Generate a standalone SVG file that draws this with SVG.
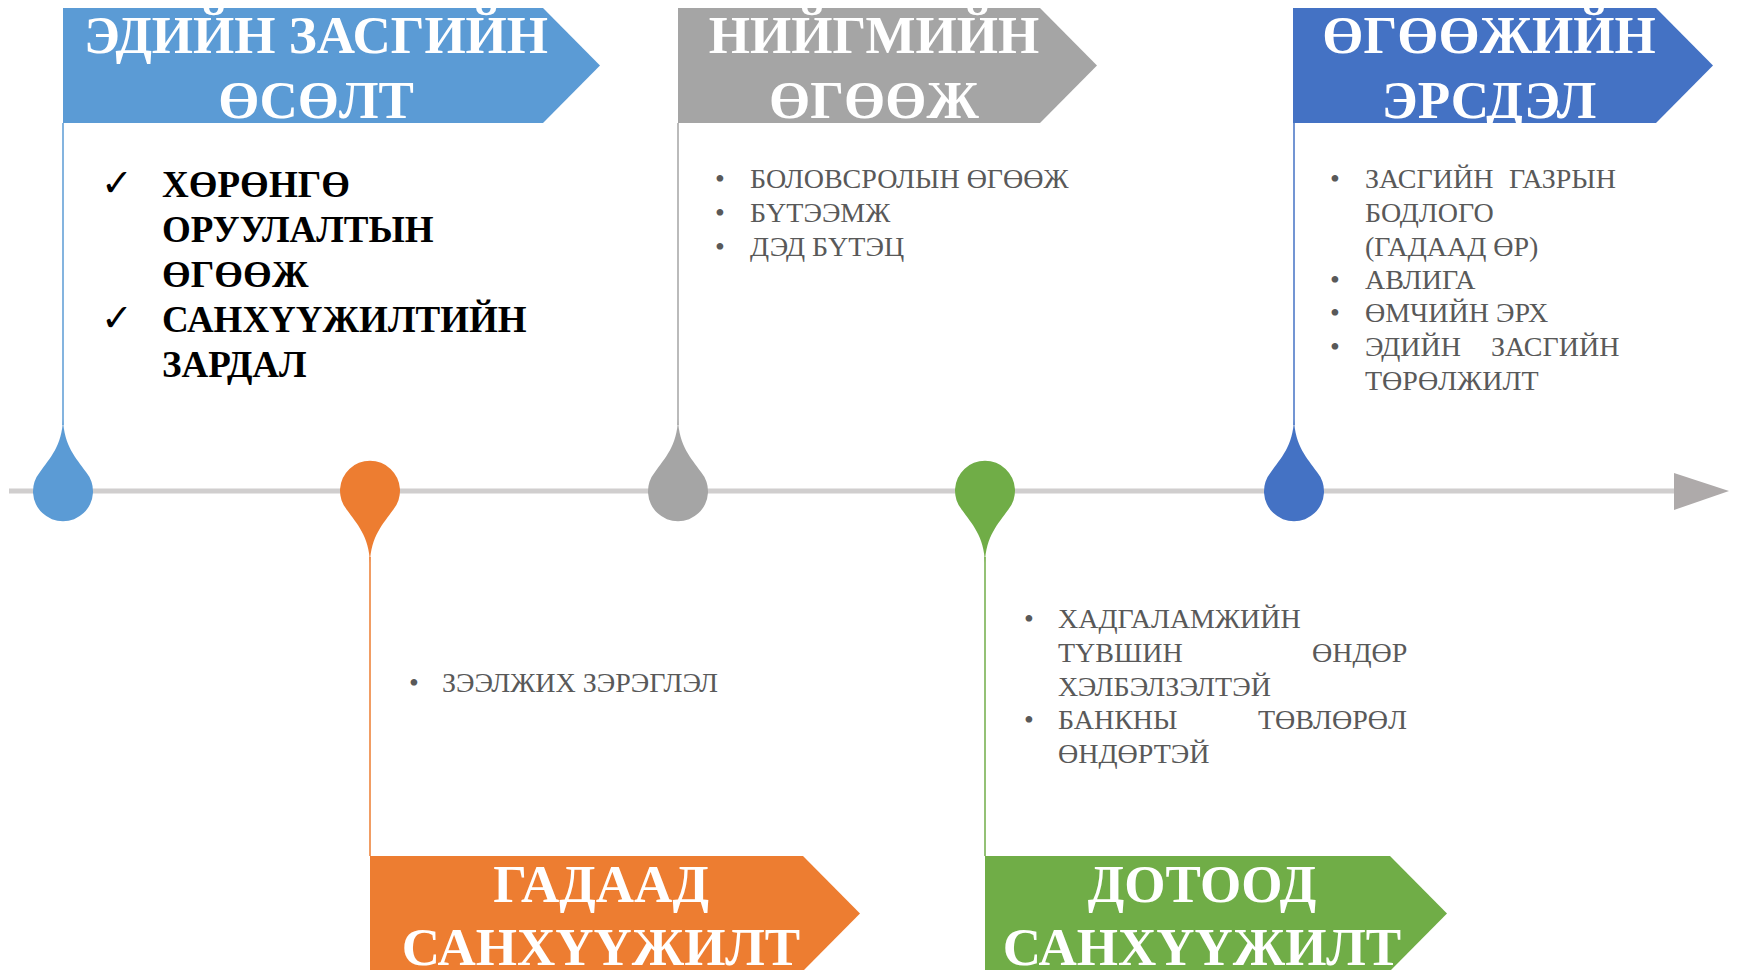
<svg xmlns="http://www.w3.org/2000/svg" width="1738" height="970" viewBox="0 0 1738 970">
<style>
.title{font-family:"Liberation Serif","Times New Roman",serif;font-weight:bold;font-size:53px;fill:#fff;text-anchor:middle}
.body{font-family:"Liberation Serif","Times New Roman",serif;font-size:28px;fill:#595959}
.bold{font-family:"Liberation Serif","Times New Roman",serif;font-weight:bold;font-size:37px;fill:#000}
.chk{font-family:"DejaVu Sans",sans-serif;font-size:38px;fill:#000}
.stem{stroke-width:1.5;fill:none}
</style>
<rect width="1738" height="970" fill="#fff"/>
<g id="connectors">
  <line x1="9" y1="491" x2="1676" y2="491" stroke="#D0CECE" stroke-width="5"/>
  <polygon points="1674,473 1729,491 1674,510" fill="#AEAAAA"/>
  <line class="stem" x1="63" y1="123" x2="63" y2="425" stroke="#5B9BD5"/>
  <line class="stem" x1="370" y1="557" x2="370" y2="856" stroke="#ED7D31"/>
  <line class="stem" x1="678" y1="123" x2="678" y2="425" stroke="#A5A5A5"/>
  <line class="stem" x1="985" y1="557" x2="985" y2="856" stroke="#70AD47"/>
  <line class="stem" x1="1294" y1="123" x2="1294" y2="425" stroke="#4472C4"/>
</g>
<g id="node-growth">
  <polygon points="63,8 543,8 600,65.5 543,123 63,123" fill="#5B9BD5"/>
  <text class="title" x="316" y="53">ЭДИЙН ЗАСГИЙН</text>
  <text class="title" x="316" y="118">ӨСӨЛТ</text>
  <path d="M63,419 C64,446 76,458 86,472 A30,30 0 1 1 40,472 C50,458 62,446 63,419 Z" fill="#5B9BD5"/>
  <text class="chk" x="101" y="196">✓</text>
  <text class="chk" x="101" y="331">✓</text>
  <text class="bold" x="162" y="197">ХӨРӨНГӨ</text>
  <text class="bold" x="162" y="242">ОРУУЛАЛТЫН</text>
  <text class="bold" x="162" y="287">ӨГӨӨЖ</text>
  <text class="bold" x="162" y="332">САНХҮҮЖИЛТИЙН</text>
  <text class="bold" x="162" y="377">ЗАРДАЛ</text>
</g>
<g id="node-external">
  <polygon points="370,856 803,856 860,913.5 803,971 370,971" fill="#ED7D31"/>
  <text class="title" x="601" y="902">ГАДААД</text>
  <text class="title" x="601" y="965">САНХҮҮЖИЛТ</text>
  <path d="M370,563 C371,536 383,524 393,510 A30,30 0 1 0 347,510 C357,524 369,536 370,563 Z" fill="#ED7D31"/>
  <text class="body" x="409" y="692">•</text>
  <text class="body" x="442" y="692">ЗЭЭЛЖИХ ЗЭРЭГЛЭЛ</text>
</g>
<g id="node-social">
  <polygon points="678,8 1040,8 1097,65.5 1040,123 678,123" fill="#A5A5A5"/>
  <text class="title" x="874" y="53">НИЙГМИЙН</text>
  <text class="title" x="874" y="118">ӨГӨӨЖ</text>
  <path d="M678,419 C679,446 691,458 701,472 A30,30 0 1 1 655,472 C665,458 677,446 678,419 Z" fill="#A5A5A5"/>
  <text class="body" x="715" y="188">•</text>
  <text class="body" x="715" y="222">•</text>
  <text class="body" x="715" y="256">•</text>
  <text class="body" x="750" y="188">БОЛОВСРОЛЫН ӨГӨӨЖ</text>
  <text class="body" x="750" y="222">БҮТЭЭМЖ</text>
  <text class="body" x="750" y="256">ДЭД БҮТЭЦ</text>
</g>
<g id="node-domestic">
  <polygon points="985,856 1390,856 1447,913.5 1390,971 985,971" fill="#70AD47"/>
  <text class="title" x="1202" y="902">ДОТООД</text>
  <text class="title" x="1202" y="965">САНХҮҮЖИЛТ</text>
  <path d="M985,563 C986,536 998,524 1008,510 A30,30 0 1 0 962,510 C972,524 984,536 985,563 Z" fill="#70AD47"/>
  <text class="body" x="1024" y="628">•</text>
  <text class="body" x="1024" y="729">•</text>
  <text class="body" x="1058" y="628">ХАДГАЛАМЖИЙН</text>
  <text class="body" y="662"><tspan x="1058">ТҮВШИН</tspan><tspan x="1312">ӨНДӨР</tspan></text>
  <text class="body" x="1058" y="696">ХЭЛБЭЛЗЭЛТЭЙ</text>
  <text class="body" y="729"><tspan x="1058">БАНКНЫ</tspan><tspan x="1258">ТӨВЛӨРӨЛ</tspan></text>
  <text class="body" x="1058" y="763">ӨНДӨРТЭЙ</text>
</g>
<g id="node-risk">
  <polygon points="1293,8 1656,8 1713,65.5 1656,123 1293,123" fill="#4472C4"/>
  <text class="title" x="1489" y="53">ӨГӨӨЖИЙН</text>
  <text class="title" x="1489" y="118">ЭРСДЭЛ</text>
  <path d="M1294,419 C1295,446 1307,458 1317,472 A30,30 0 1 1 1271,472 C1281,458 1293,446 1294,419 Z" fill="#4472C4"/>
  <text class="body" x="1330" y="188">•</text>
  <text class="body" x="1330" y="289">•</text>
  <text class="body" x="1330" y="322">•</text>
  <text class="body" x="1330" y="356">•</text>
  <text class="body" y="188"><tspan x="1365">ЗАСГИЙН</tspan><tspan x="1509">ГАЗРЫН</tspan></text>
  <text class="body" x="1365" y="222">БОДЛОГО</text>
  <text class="body" x="1365" y="256">(ГАДААД ӨР)</text>
  <text class="body" x="1365" y="289">АВЛИГА</text>
  <text class="body" x="1365" y="322">ӨМЧИЙН ЭРХ</text>
  <text class="body" y="356"><tspan x="1365">ЭДИЙН</tspan><tspan x="1491">ЗАСГИЙН</tspan></text>
  <text class="body" x="1365" y="390">ТӨРӨЛЖИЛТ</text>
</g>
</svg>
